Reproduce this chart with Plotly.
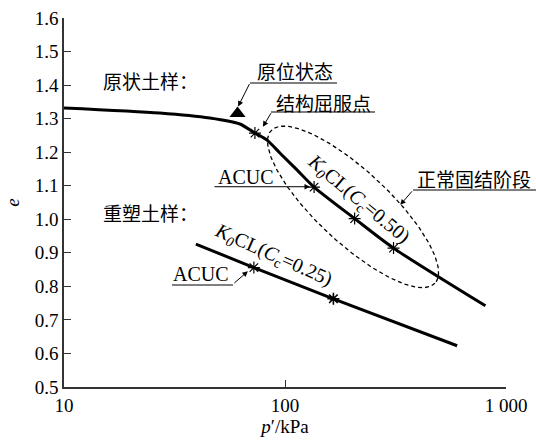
import numpy as np
import plotly.graph_objects as go

# ---- data -------------------------------------------------------------
# undisturbed sample: e - log p' compression curve
p_undisturbed = [10, 27.1, 45.7, 62.5, 73.1, 83, 95, 113, 135.4, 206.6, 309.8, 807]
e_undisturbed = [1.332, 1.317, 1.302, 1.284, 1.257, 1.236, 1.197, 1.148, 1.096, 1.002, 0.914, 0.742]

# marked points on the undisturbed curve (structural yield, ACUC, K0CL stages)
p_und_marks = [73.1, 135.4, 206.6, 309.8]
e_und_marks = [1.257, 1.096, 1.002, 0.914]

# in-situ state
p_insitu = [61]
e_insitu = [1.315]

# remoulded sample
p_remoulded = [39.5, 72.3, 165.6, 601]
e_remoulded = [0.926, 0.856, 0.763, 0.623]
p_rem_acuc = [72.3]
e_rem_acuc = [0.856]
p_rem_k0 = [165.6]
e_rem_k0 = [0.763]

x_tickvals = [10, 100, 1000]
x_ticktext = ["10", "100", "1 000"]
y_tickvals = [0.5, 0.6, 0.7, 0.8, 0.9, 1.0, 1.1, 1.2, 1.3, 1.4, 1.5, 1.6]
y_ticktext = ["0.5", "0.6", "0.7", "0.8", "0.9", "1.0", "1.1", "1.2", "1.3", "1.4", "1.5", "1.6"]

# ---- layout constants ---------------------------------------------------
W, H = 536, 443
ML, MR, MT, MB = 64, 30, 18, 56
PW, PH = W - ML - MR, H - MT - MB
X_RANGE = [1, 3]          # log10 p'
Y_RANGE = [0.5, 1.6]
SX = PW / (X_RANGE[1] - X_RANGE[0])   # px per decade
SY = PH / (Y_RANGE[1] - Y_RANGE[0])   # px per unit e

SERIF = "Liberation Serif"
CJK = "Noto Sans CJK SC"
INK = "black"

fig = go.Figure()

# normal consolidation zone (dashed ellipse), defined in plot pixels
cx_log, cy_e = 2.308, 1.037
a_px, b_px, theta = 112, 36, np.deg2rad(43)
t = np.linspace(0, 2 * np.pi, 200)
dx = a_px * np.cos(t) * np.cos(theta) - b_px * np.sin(t) * np.sin(theta)
dy = a_px * np.cos(t) * np.sin(theta) + b_px * np.sin(t) * np.cos(theta)
fig.add_trace(go.Scatter(
    x=10 ** (cx_log + dx / SX), y=cy_e - dy / SY, mode="lines",
    line=dict(color=INK, width=1.3, dash="4px,3px"), hoverinfo="skip"))

# undisturbed curve
fig.add_trace(go.Scatter(
    x=p_undisturbed, y=e_undisturbed, mode="lines",
    line=dict(color=INK, width=3, shape="spline", smoothing=0.7)))
fig.add_trace(go.Scatter(
    x=p_und_marks, y=e_und_marks, mode="markers",
    marker=dict(symbol="asterisk-open", size=10, color=INK,
                line=dict(color=INK, width=1.2))))
fig.add_trace(go.Scatter(
    x=p_insitu, y=e_insitu, mode="markers",
    marker=dict(symbol="triangle-up", size=14, color=INK)))

# remoulded curve
fig.add_trace(go.Scatter(
    x=p_remoulded, y=e_remoulded, mode="lines",
    line=dict(color=INK, width=3)))
fig.add_trace(go.Scatter(
    x=p_rem_acuc, y=e_rem_acuc, mode="markers",
    marker=dict(symbol="asterisk-open", size=10, color=INK,
                line=dict(color=INK, width=1.2))))
fig.add_trace(go.Scatter(
    x=p_rem_k0, y=e_rem_k0, mode="markers",
    marker=dict(symbol="asterisk-open", size=10, color=INK,
                line=dict(color=INK, width=1.6))))
fig.add_trace(go.Scatter(
    x=p_rem_k0, y=e_rem_k0, mode="markers",
    marker=dict(symbol="triangle-up", size=7, color=INK)))

# ---- text labels ----------------------------------------------------------
def label(x_log, y, text, font=SERIF, size=20, angle=0):
    fig.add_annotation(x=x_log, y=y, xref="x", yref="y", text=text,
                       showarrow=False, textangle=angle,
                       font=dict(family=font, size=size, color=INK))

label(1.392, 1.413, "原状土样：", CJK, 19)
label(1.392, 1.019, "重塑土样：", CJK, 19)
label(2.045, 1.443, "原位状态", CJK, 19)
label(2.172, 1.349, "结构屈服点", CJK, 19)
label(2.857, 1.121, "正常固结阶段", CJK, 19)
label(1.823, 1.127, "ACUC", SERIF, 20)
label(1.619, 0.838, "ACUC", SERIF, 20)
label(2.331, 1.058,
      "<i>K</i><sub><i>0</i></sub>CL(<i>C</i><sub>c</sub>=0.50)", SERIF, 20, 40)
label(1.946, 0.891,
      "<i>K</i><sub><i>0</i></sub>CL(<i>C</i><sub>c</sub>=0.25)", SERIF, 20, 24)

# leader arrows (head at the pointed feature, tail offset in pixels)
def leader(x_log, y, ax, ay):
    fig.add_annotation(x=x_log, y=y, xref="x", yref="y", text="",
                       showarrow=True, ax=ax, ay=ay,
                       arrowhead=2, arrowsize=1.1, arrowwidth=1, arrowcolor=INK)

leader(1.788, 1.336, 12, -24)    # 原位状态
leader(1.900, 1.276, 9, -15)     # 结构屈服点
leader(2.113, 1.097, -97, 0)     # ACUC (undisturbed)
leader(2.5215, 1.043, 13, -15)   # 正常固结阶段
leader(1.832, 0.845, -15, 13)    # ACUC (remoulded)

# underlines beneath the callout texts (plot-pixel coordinates)
def underline(x0_px, x1_px, y_px):
    fig.add_shape(type="line", xref="paper", yref="paper",
                  x0=(x0_px - ML) / PW, x1=(x1_px - ML) / PW,
                  y0=1 - (y_px - MT) / PH, y1=1 - (y_px - MT) / PH,
                  line=dict(color=INK, width=1))

underline(250, 337, 83)
underline(271, 375, 112)
underline(413, 536, 190)
underline(172, 233, 285)

# ---- axes ----------------------------------------------------------------
axis_font = dict(family=SERIF, size=19, color=INK)
fig.update_xaxes(
    type="log", range=X_RANGE, tickvals=x_tickvals, ticktext=x_ticktext,
    ticks="inside", ticklen=7, tickwidth=1.2, tickcolor="#333",
    showline=True, linecolor="#333", linewidth=1.5, showgrid=False,
    zeroline=False, tickfont=axis_font,
    title=dict(text="<i>p</i>′/kPa", font=axis_font, standoff=4))
fig.update_yaxes(
    range=Y_RANGE, tickvals=y_tickvals, ticktext=y_ticktext,
    ticks="inside", ticklen=7, tickwidth=1.2, tickcolor="#333",
    showline=True, linecolor="#333", linewidth=1.5, showgrid=False,
    zeroline=False, tickfont=axis_font,
    title=dict(text="<i>e</i>", font=axis_font, standoff=10))

fig.update_layout(
    width=W, height=H, showlegend=False,
    margin=dict(l=ML, r=MR, t=MT, b=MB, autoexpand=False),
    plot_bgcolor="white", paper_bgcolor="white")

fig.write_html("out.html")
